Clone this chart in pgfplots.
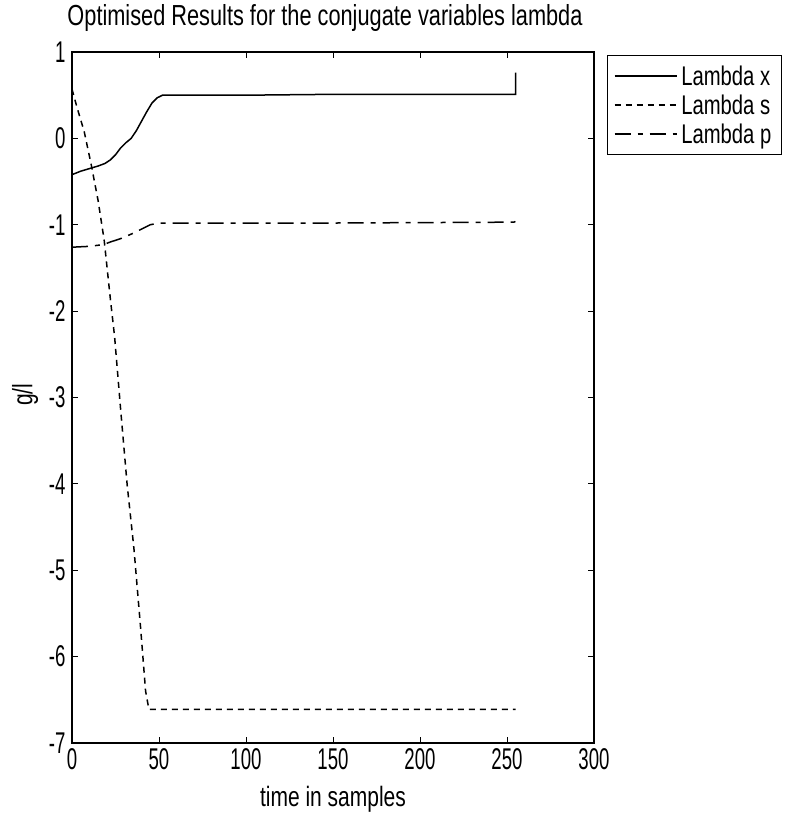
\documentclass[border=0pt]{standalone}
\usepackage{fontspec}
\setmainfont{Liberation Sans}[FakeStretch=0.75]
\newfontfamily\tickfont{Liberation Sans}[FakeStretch=0.62]
\usepackage{pgfplots}
\pgfplotsset{compat=1.18}

\begin{document}
\begin{tikzpicture}[x=1pt,y=1pt]
\path[use as bounding box] (0,0) rectangle (806,816);
\begin{axis}[
  at={(72pt,73pt)}, anchor=south west,
  scale only axis, width=522pt, height=691pt,
  xmin=0, xmax=300, ymin=-7, ymax=1,
  xtick={0,50,...,300}, ytick={-7,-6,...,1},
  tick align=inside, major tick length=6pt,
  axis line style={line width=2pt},
  every tick/.style={black, line width=1pt},
  /pgf/number format/assume math mode=true,
  tick label style={font=\tickfont\fontsize{30}{30}\selectfont},
  xticklabel style={yshift=-2pt},
  yticklabel style={xshift=-3pt},
  title={Optimised Results for the conjugate variables lambda},
  title style={at={(axis description cs:0.5,1)}, anchor=base, yshift=20pt, xshift=-8pt,
    font=\fontsize{29}{29}\selectfont},
  xlabel={time in samples},
  xlabel style={at={(axis description cs:0.5,0)}, anchor=center, yshift=-56pt,
    font=\fontsize{28}{28}\selectfont},
  ylabel={g/l},
  ylabel style={at={(axis description cs:-0.09,0.504)}, anchor=center,
    font=\fontsize{28}{28}\selectfont},
  legend style={at={(axis description cs:1.025,0.996)}, anchor=north west,
    draw=black, line width=1.4pt, inner xsep=6pt, inner ysep=5pt,
    font=\fontsize{27}{27}\selectfont, row sep=-2pt,
    nodes={inner xsep=4pt, inner ysep=5pt},
    cells={anchor=west}},
  legend image code/.code={\draw[#1] (0pt,0pt) -- (62pt,0pt);},
]
% lambda x
\addplot[black, solid, line width=1.5pt, no marks] coordinates {
  (0,-0.42) (5,-0.38) (10,-0.35) (15,-0.32) (19,-0.29) (22,-0.25) (25,-0.19)
  (28,-0.11) (31,-0.05) (34,0.0) (37,0.09) (40,0.2) (43,0.31) (46,0.41)
  (49,0.47) (52,0.5) (100,0.5) (150,0.51) (200,0.51) (255,0.51) (255,0.76)
};
\addlegendentry{Lambda x}
% lambda s
\addplot[black, line width=1.5pt, no marks, dash pattern=on 6pt off 5pt] coordinates {
  (0,0.57) (3,0.35) (7,0.08) (11,-0.30) (15,-0.72) (18.5,-1.18) (22,-1.85)
  (24.5,-2.3) (28,-3.15) (31.7,-4.01) (35.6,-4.75) (39.4,-5.66) (42.3,-6.40)
  (44.2,-6.61) (100,-6.61) (150,-6.61) (200,-6.61) (255,-6.61)
};
\addlegendentry{Lambda s}
% lambda p
\addplot[black, line width=1.5pt, no marks, dash pattern=on 16pt off 7pt on 5pt off 7pt] coordinates {
  (0,-1.26) (10,-1.25) (18,-1.23) (22,-1.2) (28,-1.16) (35,-1.1) (40,-1.05)
  (45,-1.0) (50,-0.98) (150,-0.98) (254,-0.97) (256,-0.95)
};
\addlegendentry{Lambda p}
\end{axis}
\end{tikzpicture}
\end{document}
